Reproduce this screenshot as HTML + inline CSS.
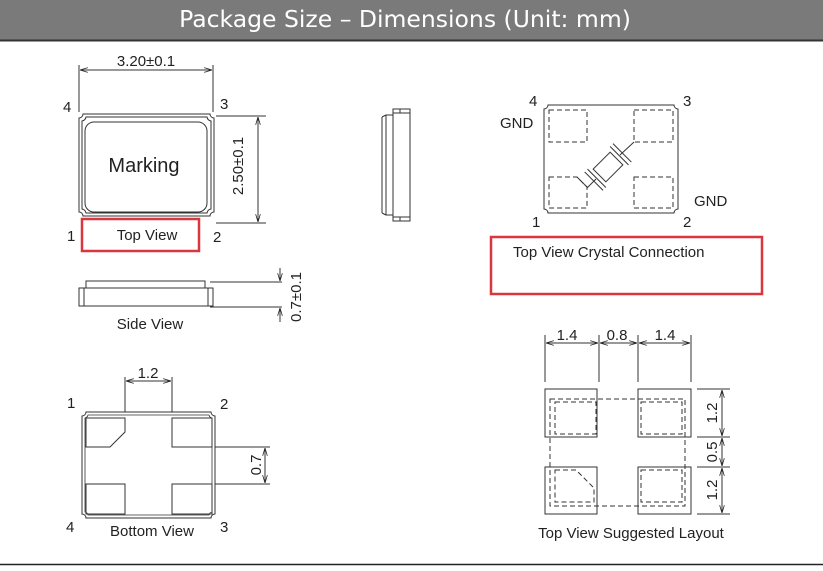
<!DOCTYPE html>
<html><head><meta charset="utf-8"><style>
html,body{margin:0;padding:0;background:#fff;}
svg{display:block;}
text{font-family:"Liberation Sans",Arial,sans-serif;fill:#222;}
</style></head><body>
<svg width="823" height="571" viewBox="0 0 823 571" xmlns="http://www.w3.org/2000/svg">
<defs>
<marker id="a" viewBox="0 0 10 6" refX="10" refY="3" markerWidth="8" markerHeight="5" orient="auto-start-reverse"><path d="M0,0 L10,3 L0,6" fill="none" stroke="#222" stroke-width="1"/></marker>
</defs>
<rect x="0" y="0" width="823" height="40" fill="#7a7a7a"/>
<line x1="0" y1="40.5" x2="823" y2="40.5" stroke="#333" stroke-width="2"/>
<text x="405" y="27" font-size="23.5" text-anchor="middle" style="fill:#fff;font-family:'DejaVu Sans',sans-serif">Package Size – Dimensions (Unit: mm)</text>
<line x1="0" y1="564.5" x2="823" y2="564.5" stroke="#222" stroke-width="1.5"/>

<g stroke="#333" stroke-width="1" fill="none">
<path d="M83,114 L210,114 A4,4 0 0 0 214,118 L214,212 A4,4 0 0 0 210,216 L83,216 A4,4 0 0 0 79,212 L79,118 A4,4 0 0 0 83,114 Z"/>
<path d="M86,117 L207,117 A5,5 0 0 0 211,121 L211,209 A5,5 0 0 0 207,213 L86,213 A5,5 0 0 0 82,209 L82,121 A5,5 0 0 0 86,117 Z"/>
<rect x="85" y="122" width="122" height="90" rx="9"/>
<line x1="79" y1="65" x2="79" y2="112"/><line x1="213" y1="65" x2="213" y2="112"/>
<line x1="80" y1="70" x2="212" y2="70" marker-start="url(#a)" marker-end="url(#a)"/>
<line x1="216" y1="116" x2="266" y2="116"/><line x1="216" y1="223" x2="266" y2="223"/>
<line x1="258" y1="117" x2="258" y2="222" marker-start="url(#a)" marker-end="url(#a)"/>
<rect x="86" y="281" width="119" height="7"/>
<rect x="79" y="288" width="134" height="18"/>
<line x1="84" y1="288" x2="84" y2="306"/><line x1="208" y1="288" x2="208" y2="306"/>
<line x1="210" y1="282" x2="282" y2="282"/><line x1="210" y1="307" x2="282" y2="307"/>
<line x1="280" y1="268" x2="280" y2="281" marker-end="url(#a)"/>
<line x1="280" y1="322" x2="280" y2="308" marker-end="url(#a)"/>
<rect x="393" y="109" width="17" height="112"/>
<line x1="393" y1="113" x2="410" y2="113"/><line x1="393" y1="217" x2="410" y2="217"/>
<line x1="400" y1="109" x2="400" y2="113"/><line x1="400" y1="217" x2="400" y2="221"/>
<rect x="386" y="115" width="7" height="100"/>
<line x1="382" y1="117" x2="382" y2="213"/><line x1="382" y1="117" x2="386" y2="115"/><line x1="382" y1="213" x2="386" y2="215"/>
<path d="M86,412 L211,412 A4,4 0 0 0 215,416 L215,514 A4,4 0 0 0 211,518 L86,518 A4,4 0 0 0 82,514 L82,416 A4,4 0 0 0 86,412 Z"/>
<path d="M88,415 L209,415 A4,4 0 0 0 212,418 L212,512 A4,4 0 0 0 209,515 L88,515 A4,4 0 0 0 85,512 L85,418 A4,4 0 0 0 88,415 Z" stroke-width="0.8"/>
<path d="M86,418 L125,418 L125,432 L110,447 L86,447 Z"/>
<rect x="172" y="418" width="40" height="29"/>
<rect x="86" y="484" width="39" height="30"/>
<rect x="172" y="484" width="40" height="30"/>
<line x1="125" y1="377" x2="125" y2="412"/><line x1="172" y1="377" x2="172" y2="412"/>
<line x1="126" y1="381" x2="171" y2="381" marker-start="url(#a)" marker-end="url(#a)"/>
<line x1="215" y1="447" x2="270" y2="447"/><line x1="215" y1="484" x2="270" y2="484"/>
<line x1="265" y1="448" x2="265" y2="483" marker-start="url(#a)" marker-end="url(#a)"/>
<path d="M548,105 L674,105 A4,4 0 0 0 678,109 L678,209 A4,4 0 0 0 674,213 L548,213 A4,4 0 0 0 544,209 L544,109 A4,4 0 0 0 548,105 Z"/>
<g stroke-dasharray="5,3">
<rect x="549" y="110" width="38" height="32"/>
<rect x="634" y="110" width="39" height="32"/>
<path d="M549,177 L577,177 L587,187 L587,208 L549,208 Z"/>
<rect x="634" y="177" width="39" height="31"/>
</g>
<line x1="577" y1="177" x2="587" y2="187"/>
<line x1="587" y1="188" x2="596" y2="179"/>
<line x1="620" y1="155" x2="634" y2="142"/>
<g transform="rotate(-45 608 167)">
<rect x="596" y="158" width="24" height="18"/>
<line x1="592" y1="154" x2="592" y2="180"/><line x1="588" y1="154" x2="588" y2="180"/>
<line x1="624" y1="154" x2="624" y2="180"/><line x1="628" y1="154" x2="628" y2="180"/>
</g>
<rect x="545" y="389" width="52" height="48"/>
<rect x="638" y="389" width="53" height="48"/>
<rect x="545" y="467" width="52" height="47"/>
<rect x="638" y="467" width="53" height="47"/>
<g stroke-dasharray="5,3">
<rect x="550" y="399" width="135" height="107"/>
<rect x="555" y="402" width="41" height="32"/>
<rect x="641" y="402" width="41" height="32"/>
<path d="M555,470 L576,470 L594,488 L594,502 L555,502 Z"/>
<rect x="641" y="470" width="41" height="32"/>
</g>
<line x1="545" y1="335" x2="545" y2="382"/><line x1="599" y1="335" x2="599" y2="382"/>
<line x1="638" y1="335" x2="638" y2="382"/><line x1="691" y1="335" x2="691" y2="382"/>
<line x1="546" y1="343" x2="598" y2="343" marker-start="url(#a)" marker-end="url(#a)"/>
<line x1="600" y1="343" x2="637" y2="343" marker-start="url(#a)" marker-end="url(#a)"/>
<line x1="639" y1="343" x2="690" y2="343" marker-start="url(#a)" marker-end="url(#a)"/>
<line x1="697" y1="389" x2="730" y2="389"/><line x1="697" y1="437" x2="730" y2="437"/>
<line x1="697" y1="467" x2="730" y2="467"/><line x1="697" y1="514" x2="730" y2="514"/>
<line x1="722" y1="390" x2="722" y2="436" marker-start="url(#a)" marker-end="url(#a)"/>
<line x1="722" y1="438" x2="722" y2="466" marker-start="url(#a)" marker-end="url(#a)"/>
<line x1="722" y1="468" x2="722" y2="513" marker-start="url(#a)" marker-end="url(#a)"/>
</g>
<rect x="82" y="219" width="117" height="32" fill="none" stroke="#d9363e" stroke-width="2.5"/>
<rect x="491" y="237" width="271" height="57" fill="none" stroke="#d9363e" stroke-width="2.5"/>

<g font-size="15">
<text x="146" y="66" text-anchor="middle">3.20±0.1</text>
<text x="63" y="112">4</text><text x="220" y="109">3</text>
<text x="67" y="241">1</text><text x="213" y="242">2</text>
<text x="147" y="240" text-anchor="middle">Top View</text>
<text x="150" y="329" text-anchor="middle">Side View</text>
<text transform="translate(243,166) rotate(-90)" text-anchor="middle">2.50±0.1</text>
<text transform="translate(301,297) rotate(-90)" text-anchor="middle">0.7±0.1</text>
<text x="148" y="378" text-anchor="middle">1.2</text>
<text x="67" y="408">1</text><text x="220" y="409">2</text>
<text x="66" y="532">4</text><text x="220" y="532">3</text>
<text x="152" y="536" text-anchor="middle">Bottom View</text>
<text transform="translate(261,465) rotate(-90)" text-anchor="middle">0.7</text>
<text x="529" y="106">4</text><text x="683" y="106">3</text>
<text x="500" y="128">GND</text><text x="694" y="206">GND</text>
<text x="532" y="227">1</text><text x="683" y="227">2</text>
<text x="513" y="257">Top View Crystal Connection</text>
<text x="567" y="340" text-anchor="middle">1.4</text>
<text x="617" y="340" text-anchor="middle">0.8</text>
<text x="665" y="340" text-anchor="middle">1.4</text>
<text transform="translate(717,413) rotate(-90)" text-anchor="middle">1.2</text>
<text transform="translate(717,452) rotate(-90)" text-anchor="middle">0.5</text>
<text transform="translate(717,490) rotate(-90)" text-anchor="middle">1.2</text>
<text x="631" y="538" text-anchor="middle">Top View Suggested Layout</text>
</g>
<text x="144" y="172" font-size="20" text-anchor="middle">Marking</text>
</svg>
</body></html>
